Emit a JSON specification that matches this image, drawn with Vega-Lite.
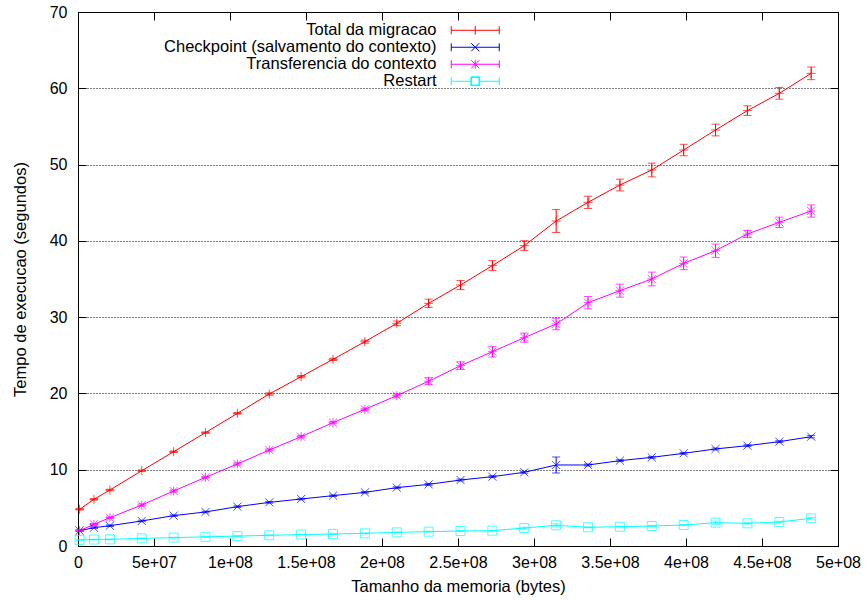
{
  "$schema": "https://vega.github.io/schema/vega-lite/v6.json",
  "width": 760,
  "height": 534,
  "autosize": "none",
  "padding": {"left": 78, "top": 12, "right": 29, "bottom": 55},
  "background": "white",
  "config": {
    "view": {"stroke": "black", "strokeWidth": 1},
    "axis": {"domain": false, "labelFont": "Liberation Sans", "titleFont": "Liberation Sans", "labelColor": "black", "titleColor": "black", "tickColor": "black", "labelFontSize": 16, "titleFontSize": 16.5, "titleFontWeight": "normal", "labelFlush": false, "labelOverlap": false},
    "legend": {"labelFont": "Liberation Sans", "labelFontSize": 16.5, "labelColor": "black"}
  },
  "data": {"values": [
    {"s":"Total da migracao","x":1048576,"y":4.81,"e":0.1},
    {"s":"Total da migracao","x":10485760,"y":6.12,"e":0.1},
    {"s":"Total da migracao","x":20971520,"y":7.34,"e":0.1},
    {"s":"Total da migracao","x":41943040,"y":9.87,"e":0.1},
    {"s":"Total da migracao","x":62914560,"y":12.36,"e":0.1},
    {"s":"Total da migracao","x":83886080,"y":14.86,"e":0.1},
    {"s":"Total da migracao","x":104857600,"y":17.39,"e":0.1},
    {"s":"Total da migracao","x":125829120,"y":19.92,"e":0.15},
    {"s":"Total da migracao","x":146800640,"y":22.2,"e":0.15},
    {"s":"Total da migracao","x":167772160,"y":24.47,"e":0.15},
    {"s":"Total da migracao","x":188743680,"y":26.78,"e":0.2},
    {"s":"Total da migracao","x":209715200,"y":29.19,"e":0.3},
    {"s":"Total da migracao","x":230686720,"y":31.81,"e":0.55},
    {"s":"Total da migracao","x":251658240,"y":34.21,"e":0.6},
    {"s":"Total da migracao","x":272629760,"y":36.75,"e":0.65},
    {"s":"Total da migracao","x":293601280,"y":39.37,"e":0.65},
    {"s":"Total da migracao","x":314572800,"y":42.6,"e":1.5},
    {"s":"Total da migracao","x":335544320,"y":45.05,"e":0.8},
    {"s":"Total da migracao","x":356515840,"y":47.32,"e":0.77},
    {"s":"Total da migracao","x":377487360,"y":49.29,"e":0.9},
    {"s":"Total da migracao","x":398458880,"y":51.91,"e":0.75},
    {"s":"Total da migracao","x":419430400,"y":54.53,"e":0.77},
    {"s":"Total da migracao","x":440401920,"y":57.07,"e":0.63},
    {"s":"Total da migracao","x":461373440,"y":59.34,"e":0.77},
    {"s":"Total da migracao","x":482344960,"y":61.96,"e":0.83},
    {"s":"Checkpoint (salvamento do contexto)","x":1048576,"y":2.01,"e":0.1},
    {"s":"Checkpoint (salvamento do contexto)","x":10485760,"y":2.4,"e":0.1},
    {"s":"Checkpoint (salvamento do contexto)","x":20971520,"y":2.66,"e":0.1},
    {"s":"Checkpoint (salvamento do contexto)","x":41943040,"y":3.28,"e":0.1},
    {"s":"Checkpoint (salvamento do contexto)","x":62914560,"y":3.98,"e":0.1},
    {"s":"Checkpoint (salvamento do contexto)","x":83886080,"y":4.46,"e":0.1},
    {"s":"Checkpoint (salvamento do contexto)","x":104857600,"y":5.16,"e":0.1},
    {"s":"Checkpoint (salvamento do contexto)","x":125829120,"y":5.72,"e":0.1},
    {"s":"Checkpoint (salvamento do contexto)","x":146800640,"y":6.16,"e":0.1},
    {"s":"Checkpoint (salvamento do contexto)","x":167772160,"y":6.6,"e":0.1},
    {"s":"Checkpoint (salvamento do contexto)","x":188743680,"y":7.03,"e":0.1},
    {"s":"Checkpoint (salvamento do contexto)","x":209715200,"y":7.65,"e":0.1},
    {"s":"Checkpoint (salvamento do contexto)","x":230686720,"y":8.08,"e":0.12},
    {"s":"Checkpoint (salvamento do contexto)","x":251658240,"y":8.65,"e":0.12},
    {"s":"Checkpoint (salvamento do contexto)","x":272629760,"y":9.09,"e":0.12},
    {"s":"Checkpoint (salvamento do contexto)","x":293601280,"y":9.66,"e":0.12},
    {"s":"Checkpoint (salvamento do contexto)","x":314572800,"y":10.62,"e":1.05},
    {"s":"Checkpoint (salvamento do contexto)","x":335544320,"y":10.62,"e":0.12},
    {"s":"Checkpoint (salvamento do contexto)","x":356515840,"y":11.19,"e":0.12},
    {"s":"Checkpoint (salvamento do contexto)","x":377487360,"y":11.62,"e":0.12},
    {"s":"Checkpoint (salvamento do contexto)","x":398458880,"y":12.15,"e":0.12},
    {"s":"Checkpoint (salvamento do contexto)","x":419430400,"y":12.72,"e":0.12},
    {"s":"Checkpoint (salvamento do contexto)","x":440401920,"y":13.15,"e":0.12},
    {"s":"Checkpoint (salvamento do contexto)","x":461373440,"y":13.68,"e":0.12},
    {"s":"Checkpoint (salvamento do contexto)","x":482344960,"y":14.33,"e":0.15},
    {"s":"Transferencia do contexto","x":1048576,"y":2.01,"e":0.1},
    {"s":"Transferencia do contexto","x":10485760,"y":2.84,"e":0.1},
    {"s":"Transferencia do contexto","x":20971520,"y":3.71,"e":0.1},
    {"s":"Transferencia do contexto","x":41943040,"y":5.37,"e":0.15},
    {"s":"Transferencia do contexto","x":62914560,"y":7.21,"e":0.15},
    {"s":"Transferencia do contexto","x":83886080,"y":9.0,"e":0.1},
    {"s":"Transferencia do contexto","x":104857600,"y":10.75,"e":0.15},
    {"s":"Transferencia do contexto","x":125829120,"y":12.58,"e":0.15},
    {"s":"Transferencia do contexto","x":146800640,"y":14.33,"e":0.15},
    {"s":"Transferencia do contexto","x":167772160,"y":16.17,"e":0.15},
    {"s":"Transferencia do contexto","x":188743680,"y":17.92,"e":0.15},
    {"s":"Transferencia do contexto","x":209715200,"y":19.71,"e":0.2},
    {"s":"Transferencia do contexto","x":230686720,"y":21.6,"e":0.45},
    {"s":"Transferencia do contexto","x":251658240,"y":23.64,"e":0.5},
    {"s":"Transferencia do contexto","x":272629760,"y":25.47,"e":0.7},
    {"s":"Transferencia do contexto","x":293601280,"y":27.31,"e":0.6},
    {"s":"Transferencia do contexto","x":314572800,"y":29.1,"e":0.75},
    {"s":"Transferencia do contexto","x":335544320,"y":31.9,"e":0.8},
    {"s":"Transferencia do contexto","x":356515840,"y":33.47,"e":0.85},
    {"s":"Transferencia do contexto","x":377487360,"y":35.0,"e":0.9},
    {"s":"Transferencia do contexto","x":398458880,"y":37.05,"e":0.83},
    {"s":"Transferencia do contexto","x":419430400,"y":38.71,"e":0.87},
    {"s":"Transferencia do contexto","x":440401920,"y":40.9,"e":0.45},
    {"s":"Transferencia do contexto","x":461373440,"y":42.43,"e":0.68},
    {"s":"Transferencia do contexto","x":482344960,"y":43.91,"e":0.8},
    {"s":"Restart","x":1048576,"y":0.8,"e":0.05},
    {"s":"Restart","x":10485760,"y":0.85,"e":0.05},
    {"s":"Restart","x":20971520,"y":0.87,"e":0.05},
    {"s":"Restart","x":41943040,"y":1.0,"e":0.05},
    {"s":"Restart","x":62914560,"y":1.1,"e":0.05},
    {"s":"Restart","x":83886080,"y":1.2,"e":0.05},
    {"s":"Restart","x":104857600,"y":1.3,"e":0.05},
    {"s":"Restart","x":125829120,"y":1.4,"e":0.05},
    {"s":"Restart","x":146800640,"y":1.5,"e":0.05},
    {"s":"Restart","x":167772160,"y":1.57,"e":0.05},
    {"s":"Restart","x":188743680,"y":1.66,"e":0.05},
    {"s":"Restart","x":209715200,"y":1.79,"e":0.05},
    {"s":"Restart","x":230686720,"y":1.88,"e":0.05},
    {"s":"Restart","x":251658240,"y":1.97,"e":0.05},
    {"s":"Restart","x":272629760,"y":2.01,"e":0.05},
    {"s":"Restart","x":293601280,"y":2.36,"e":0.1},
    {"s":"Restart","x":314572800,"y":2.71,"e":0.2},
    {"s":"Restart","x":335544320,"y":2.45,"e":0.05},
    {"s":"Restart","x":356515840,"y":2.53,"e":0.05},
    {"s":"Restart","x":377487360,"y":2.62,"e":0.05},
    {"s":"Restart","x":398458880,"y":2.75,"e":0.05},
    {"s":"Restart","x":419430400,"y":3.06,"e":0.2},
    {"s":"Restart","x":440401920,"y":2.97,"e":0.1},
    {"s":"Restart","x":461373440,"y":3.15,"e":0.1},
    {"s":"Restart","x":482344960,"y":3.63,"e":0.1}
  ]},
  "transform": [
    {"calculate": "datum.y - datum.e", "as": "lo"},
    {"calculate": "datum.y + datum.e", "as": "hi"}
  ],
  "resolve": {"axis": {"x": "independent", "y": "independent"}},
  "layer": [
    {
      "mark": {"type": "line", "strokeWidth": 1},
      "encoding": {
        "x": {"field": "x", "type": "quantitative",
          "scale": {"domain": [0, 500000000], "nice": false, "zero": false},
          "axis": {"orient": "bottom", "title": "Tamanho da memoria (bytes)", "values": [0,50000000,100000000,150000000,200000000,250000000,300000000,350000000,400000000,450000000,500000000],
            "labelExpr": "datum.value == 0 ? '0' : replace(format(datum.value, '.2~e'), 'e+', 'e+0')",
            "tickSize": -8, "labelPadding": 16, "grid": false, "titlePadding": 8}},
        "y": {"field": "y", "type": "quantitative",
          "scale": {"domain": [0, 70], "nice": false, "zero": false},
          "axis": {"orient": "left", "title": "Tempo de execucao (segundos)", "values": [0,10,20,30,40,50,60,70],
            "tickSize": -8, "labelPadding": 19, "grid": true, "gridColor": "black", "gridDash": [1, 2], "gridOpacity": 1, "titlePadding": 21}},
        "color": {"field": "s", "type": "nominal",
          "scale": {"domain": ["Total da migracao", "Checkpoint (salvamento do contexto)", "Transferencia do contexto", "Restart"], "range": ["#ff0000", "#0000ff", "#ff00ff", "#00ffff"]},
          "legend": {"title": null, "orient": "none", "legendX": 389, "legendY": 10, "padding": 0,
            "symbolSize": 144, "symbolStrokeWidth": 1, "labelAlign": "right", "labelOffset": -47, "labelLimit": 0, "rowPadding": 0}}
      }
    },
    {
      "mark": {"type": "rule", "strokeWidth": 1},
      "encoding": {
        "x": {"field": "x", "type": "quantitative", "scale": {"domain": [0, 500000000], "nice": false, "zero": false},
          "axis": {"orient": "top", "title": null, "labels": false, "grid": false, "tickSize": -8, "values": [0,50000000,100000000,150000000,200000000,250000000,300000000,350000000,400000000,450000000,500000000]}},
        "y": {"field": "lo", "type": "quantitative", "scale": {"domain": [0, 70], "nice": false, "zero": false},
          "axis": {"orient": "right", "title": null, "labels": false, "grid": false, "tickSize": -8, "values": [0,10,20,30,40,50,60,70]}},
        "y2": {"field": "hi"},
        "color": {"field": "s", "type": "nominal", "legend": null}
      }
    },
    {
      "mark": {"type": "tick", "orient": "horizontal", "size": 8, "thickness": 1},
      "encoding": {
        "x": {"field": "x", "type": "quantitative", "axis": null},
        "y": {"field": "lo", "type": "quantitative", "axis": null},
        "color": {"field": "s", "type": "nominal", "legend": null}
      }
    },
    {
      "mark": {"type": "tick", "orient": "horizontal", "size": 8, "thickness": 1},
      "encoding": {
        "x": {"field": "x", "type": "quantitative", "axis": null},
        "y": {"field": "hi", "type": "quantitative", "axis": null},
        "color": {"field": "s", "type": "nominal", "legend": null}
      }
    },
    {
      "transform": [{"filter": "datum.s == 'Total da migracao'"}],
      "mark": {"type": "point", "filled": false, "strokeWidth": 1, "size": 81, "shape": "M-1,0H1M0,-1V1"},
      "encoding": {
        "x": {"field": "x", "type": "quantitative", "axis": null},
        "y": {"field": "y", "type": "quantitative", "axis": null},
        "color": {"field": "s", "type": "nominal", "legend": null}
      }
    },
    {
      "transform": [{"filter": "datum.s == 'Checkpoint (salvamento do contexto)'"}],
      "mark": {"type": "point", "filled": false, "strokeWidth": 1, "size": 81, "shape": "M-0.9,-0.9L0.9,0.9M-0.9,0.9L0.9,-0.9"},
      "encoding": {
        "x": {"field": "x", "type": "quantitative", "axis": null},
        "y": {"field": "y", "type": "quantitative", "axis": null},
        "color": {"field": "s", "type": "nominal", "legend": null}
      }
    },
    {
      "transform": [{"filter": "datum.s == 'Transferencia do contexto'"}],
      "mark": {"type": "point", "filled": false, "strokeWidth": 1, "size": 81, "shape": "M-1,0H1M0,-1V1M-0.9,-0.9L0.9,0.9M-0.9,0.9L0.9,-0.9"},
      "encoding": {
        "x": {"field": "x", "type": "quantitative", "axis": null},
        "y": {"field": "y", "type": "quantitative", "axis": null},
        "color": {"field": "s", "type": "nominal", "legend": null}
      }
    },
    {
      "transform": [{"filter": "datum.s == 'Restart'"}],
      "mark": {"type": "point", "filled": false, "strokeWidth": 1, "size": 81, "shape": "M-1,-1H1V1H-1Z"},
      "encoding": {
        "x": {"field": "x", "type": "quantitative", "axis": null},
        "y": {"field": "y", "type": "quantitative", "axis": null},
        "color": {"field": "s", "type": "nominal", "legend": null}
      }
    },
    {
      "mark": {"type": "point", "filled": false, "strokeWidth": 1, "size": 144, "opacity": 0},
      "encoding": {
        "x": {"field": "x", "type": "quantitative", "axis": null},
        "y": {"field": "y", "type": "quantitative", "axis": null},
        "color": {"field": "s", "type": "nominal", "legend": null},
        "shape": {"field": "s", "type": "nominal",
          "scale": {"domain": ["Total da migracao", "Checkpoint (salvamento do contexto)", "Transferencia do contexto", "Restart"],
            "range": [
              "M-4,0H4M-4,-0.67V0.67M4,-0.67V0.67M0,-0.73V0.73",
              "M-4,0H4M-4,-0.67V0.67M4,-0.67V0.67M-0.67,-0.67L0.67,0.67M-0.67,0.67L0.67,-0.67",
              "M-4,0H4M-4,-0.67V0.67M4,-0.67V0.67M0,-0.73V0.73M-0.67,-0.67L0.67,0.67M-0.67,0.67L0.67,-0.67",
              "M-4,0H-0.73M0.73,0H4M-4,-0.67V0.67M4,-0.67V0.67M-0.73,-0.73H0.73V0.73H-0.73ZM-0.62,-0.62V0.62H0.62V-0.62Z"]},
          "legend": null}
      }
    }
  ]
}
